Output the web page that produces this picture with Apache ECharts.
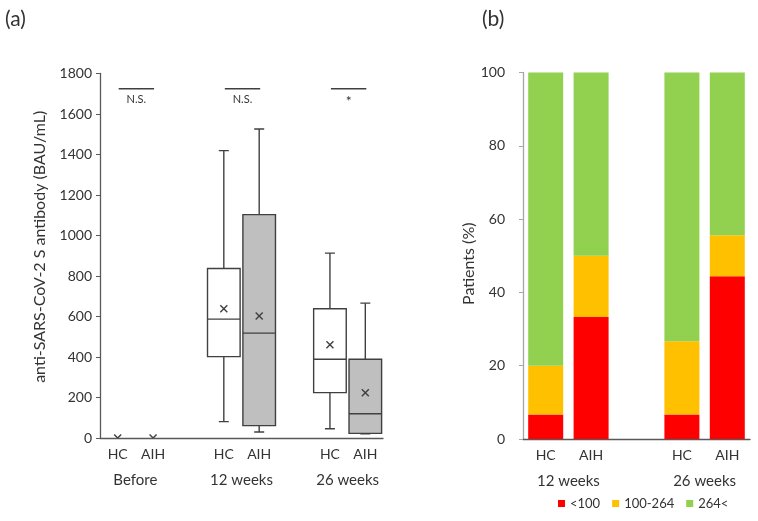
<!DOCTYPE html>
<html>
<head>
<meta charset="utf-8">
<script src="https://cdn.jsdelivr.net/npm/echarts@6/dist/echarts.min.js"></script>
<style>
  html, body { margin: 0; padding: 0; background: #fff; }
  #chart { width: 758px; height: 521px; }
</style>
</head>
<body>
<div id="chart"></div>
<script>
// panel (a): antibody titres
const catsA = ['HC', 'AIH', '', 'HC', 'AIH', '', 'HC', 'AIH'];
const groupsA = ['Before', '12 weeks', '26 weeks'];
const groupPosA = [0.5, 3.5, 6.5];
// [category index, min, Q1, median, Q3, max, mean]
const hcBoxes = [
    [0, 0, 0, 0, 0, 0, 0],
    [3, 81, 402, 587, 837, 1419, 638],
    [6, 46, 224, 389, 638, 913, 460]
];
const aihBoxes = [
    [1, 0, 0, 0, 0, 0, 0],
    [4, 30, 61, 518, 1103, 1526, 603],
    [7, 21, 23, 120, 389, 666, 224]
];
// [from index, level, to index]
const sigPairs = [[0, 1725, 1], [3, 1725, 4], [6, 1725, 7]];
const sigLabels = ['N.S.', 'N.S.', '*'];

// panel (b): share of patients per titre band (%)
const catsB = ['HC', 'AIH', '', 'HC', 'AIH'];
const groupsB = ['12 weeks', '26 weeks'];
const groupPosB = [0.5, 3.5];
const below100 = [6.7, 33.3, '-', 6.7, 44.4];
const from100to264 = [13.3, 16.7, '-', 20.0, 11.2];
const above264 = [80.0, 50.0, '-', 73.3, 44.4];

const font = 'Lato';
const ink = '#404040';
const textColor = '#333';

function boxItem(fill) {
    return function (params, api) {
        const x = api.value(0);
        const p = function (k) { return api.coord([x, api.value(k)]); };
        const min = p(1), q1 = p(2), med = p(3), q3 = p(4), max = p(5), mean = p(6);
        const cx = min[0];
        const hw = 16.3, cap = 5, c = 3.5;
        const st = { stroke: ink, lineWidth: 1.4, fill: null };
        const children = [];
        if (api.value(5) > api.value(1)) {
            children.push(
                { type: 'line', shape: { x1: cx, y1: max[1], x2: cx, y2: q3[1] }, style: st },
                { type: 'line', shape: { x1: cx - cap, y1: max[1], x2: cx + cap, y2: max[1] }, style: st },
                { type: 'line', shape: { x1: cx, y1: q1[1], x2: cx, y2: min[1] }, style: st },
                { type: 'line', shape: { x1: cx - cap, y1: min[1], x2: cx + cap, y2: min[1] }, style: st },
                { type: 'rect', shape: { x: cx - hw, y: q3[1], width: hw * 2, height: q1[1] - q3[1] },
                  style: { fill: fill, stroke: ink, lineWidth: 1.4 } },
                { type: 'line', shape: { x1: cx - hw, y1: med[1], x2: cx + hw, y2: med[1] }, style: st }
            );
        }
        children.push(
            { type: 'line', shape: { x1: cx - c, y1: mean[1] - c, x2: cx + c, y2: mean[1] + c }, style: st },
            { type: 'line', shape: { x1: cx - c, y1: mean[1] + c, x2: cx + c, y2: mean[1] - c }, style: st }
        );
        return { type: 'group', children: children };
    };
}

function sigItem(params, api) {
    const a = api.coord([api.value(0), api.value(1)]);
    const b = api.coord([api.value(2), api.value(1)]);
    const label = sigLabels[params.dataIndex];
    return {
        type: 'group',
        children: [
            { type: 'line', shape: { x1: a[0] + 1, y1: a[1], x2: b[0] + 1, y2: b[1] },
              style: { stroke: ink, lineWidth: 1.5 } },
            { type: 'text', x: (a[0] + b[0]) / 2 + 1, y: a[1] + (label === '*' ? 13 : 11),
              style: { text: label, fill: textColor, font: (label === '*' ? '14px ' : '11px ') + font,
                       align: 'center', verticalAlign: 'middle' } }
        ]
    };
}

const axisText = { color: textColor, fontFamily: font, fontSize: 14 };

const option = {
    animation: false,
    backgroundColor: '#fff',
    textStyle: { fontFamily: font },
    graphic: [
        { type: 'text', left: 5, top: 9, style: { text: '(a)', font: '21px ' + font, fill: textColor } },
        { type: 'text', left: 482, top: 9, style: { text: '(b)', font: '21px ' + font, fill: textColor } }
    ],
    legend: {
        bottom: 6,
        left: 553,
        itemWidth: 7,
        itemHeight: 7,
        itemGap: 12,
        icon: 'rect',
        textStyle: { color: textColor, fontFamily: font, fontSize: 13 },
        data: ['<100', '100-264', '264<']
    },
    grid: [
        { left: 100, top: 73.5, width: 283, height: 364.5 },
        { left: 523, top: 72.5, width: 227, height: 366.5 }
    ],
    xAxis: [
        {
            gridIndex: 0, type: 'category', data: catsA,
            axisLine: { lineStyle: { color: '#595959', width: 1.3 } },
            axisTick: { show: false },
            axisLabel: Object.assign({ interval: 0, margin: 9 }, axisText, { fontSize: 14 })
        },
        {
            gridIndex: 0, type: 'value', min: -0.5, max: 7.5, position: 'bottom',
            axisLine: { show: false, onZero: false }, axisTick: { show: false }, splitLine: { show: false },
            axisLabel: Object.assign({
                customValues: groupPosA, margin: 35,
                formatter: function (v) { return groupsA[groupPosA.indexOf(v)] || ''; }
            }, axisText, { fontSize: 15 })
        },
        {
            gridIndex: 1, type: 'category', data: catsB,
            axisLine: { lineStyle: { color: '#595959', width: 1.3 } },
            axisTick: { show: false },
            axisLabel: Object.assign({ interval: 0, margin: 9 }, axisText, { fontSize: 14 })
        },
        {
            gridIndex: 1, type: 'value', min: -0.5, max: 4.5, position: 'bottom',
            axisLine: { show: false, onZero: false }, axisTick: { show: false }, splitLine: { show: false },
            axisLabel: Object.assign({
                customValues: groupPosB, margin: 35,
                formatter: function (v) { return groupsB[groupPosB.indexOf(v)] || ''; }
            }, axisText, { fontSize: 15 })
        }
    ],
    yAxis: [
        {
            gridIndex: 0, type: 'value', min: 0, max: 1800, interval: 200,
            name: 'anti-SARS-CoV-2 S antibody (BAU/mL)',
            nameLocation: 'middle', nameGap: 52,
            nameTextStyle: { color: textColor, fontFamily: font, fontSize: 16, padding: [0, 0, 0, 18] },
            axisLine: { show: true, onZero: false, lineStyle: { color: '#595959', width: 1.3 } },
            axisTick: { show: true, length: 4, lineStyle: { color: '#595959' } },
            splitLine: { show: false },
            axisLabel: Object.assign({ margin: 8, formatter: function (v) { return String(v); } }, axisText)
        },
        {
            gridIndex: 1, type: 'value', min: 0, max: 100, interval: 20,
            name: 'Patients (%)',
            nameLocation: 'middle', nameGap: 42,
            nameTextStyle: { color: textColor, fontFamily: font, fontSize: 16, padding: [0, 16, 0, 0] },
            axisLine: { show: true, onZero: false, lineStyle: { color: '#a6a6a6', width: 1.3 } },
            axisTick: { show: true, length: 4, lineStyle: { color: '#a6a6a6' } },
            splitLine: { show: false },
            axisLabel: Object.assign({ margin: 18 }, axisText)
        }
    ],
    series: [
        {
            type: 'custom', xAxisIndex: 0, yAxisIndex: 0, clip: true,
            renderItem: boxItem('#ffffff'), data: hcBoxes, z: 3
        },
        {
            type: 'custom', xAxisIndex: 0, yAxisIndex: 0, clip: true,
            renderItem: boxItem('#bfbfbf'), data: aihBoxes, z: 3
        },
        {
            type: 'custom', xAxisIndex: 0, yAxisIndex: 0,
            renderItem: sigItem, data: sigPairs, z: 3
        },
        {
            name: '<100', type: 'bar', stack: 'b', xAxisIndex: 2, yAxisIndex: 1,
            barWidth: 35, data: below100, itemStyle: { color: '#ff0000' }
        },
        {
            name: '100-264', type: 'bar', stack: 'b', xAxisIndex: 2, yAxisIndex: 1,
            barWidth: 35, data: from100to264, itemStyle: { color: '#ffc000' }
        },
        {
            name: '264<', type: 'bar', stack: 'b', xAxisIndex: 2, yAxisIndex: 1,
            barWidth: 35, data: above264, itemStyle: { color: '#92d050' }
        }
    ]
};

const chart = echarts.init(document.getElementById('chart'));
chart.setOption(option);
</script>
</body>
</html>
